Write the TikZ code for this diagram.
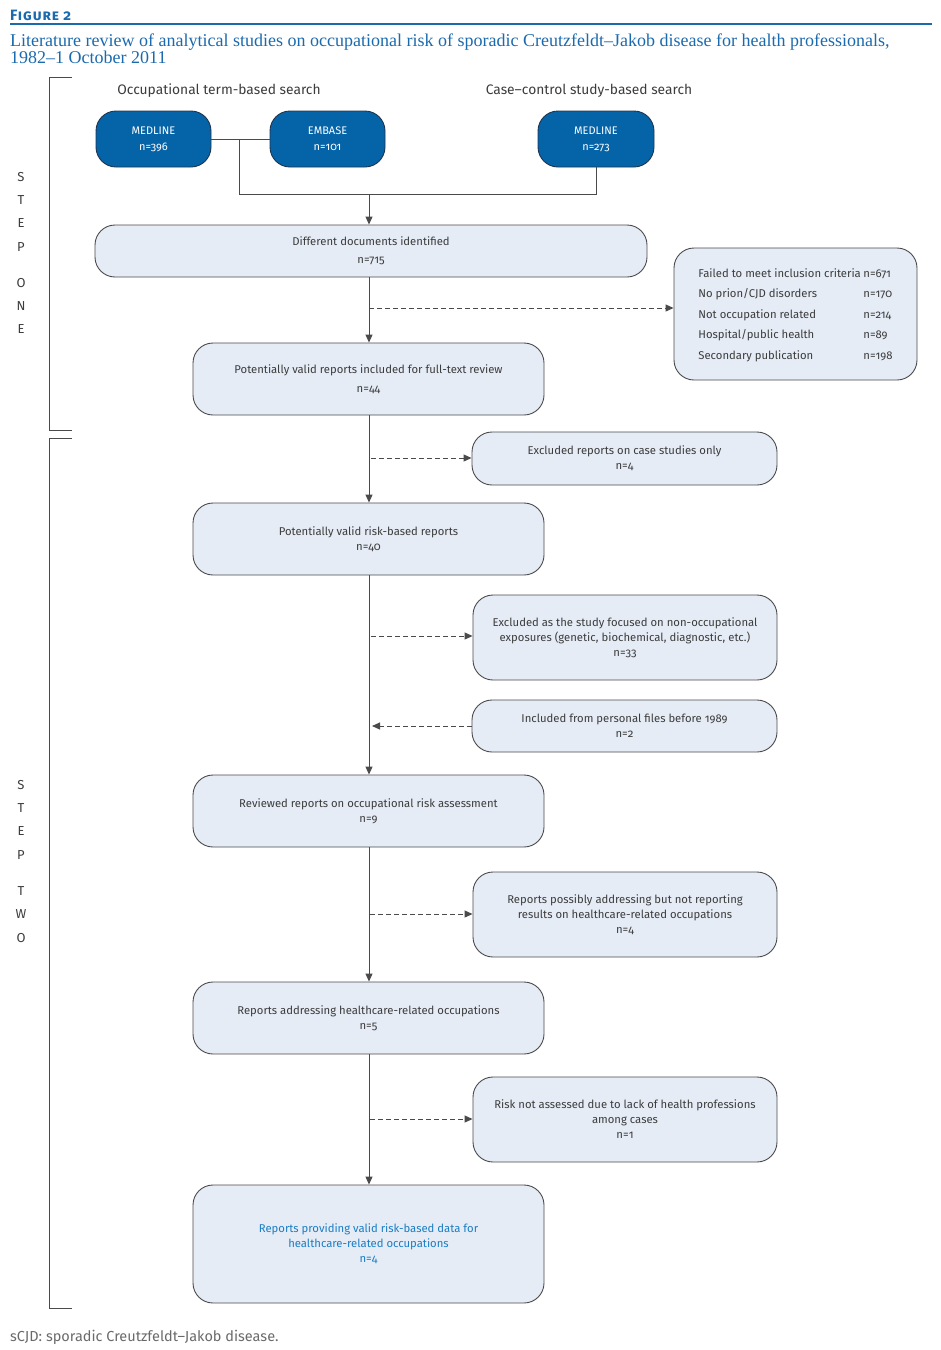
\documentclass[tikz,border=0pt]{standalone}
\usepackage{fontspec}
\setmainfont{Fira Sans}[Numbers=OldStyle]
\newfontfamily\titlefont{Liberation Serif}
\usetikzlibrary{arrows.meta}
\definecolor{figblue}{HTML}{1B6AAE}
\definecolor{dblue}{HTML}{0563A8}
\definecolor{dline}{HTML}{1E3550}
\definecolor{boxfill}{HTML}{E5ECF6}
\definecolor{boxline}{HTML}{4A4A4A}
\definecolor{txtgray}{HTML}{3C3C3C}
\definecolor{lgray}{HTML}{4A4A4A}
\definecolor{finblue}{HTML}{1A7DC4}
\definecolor{footgray}{HTML}{6A6A6A}
\begin{document}
\begin{tikzpicture}[x=1pt,y=-1pt,
  lbox/.style={draw=boxline, fill=boxfill, rounded corners=20pt, line width=0.9pt,
    align=center, font=\fontsize{11.3}{15}\selectfont, text=txtgray, inner sep=0pt},
  dbox/.style={draw=dline, fill=dblue, rounded corners=20pt, line width=0.9pt,
    align=center, font=\fontsize{11}{16}\selectfont, text=white, inner sep=0pt,
    minimum height=56pt},
  arr/.style={-{Triangle[length=8pt,width=7pt]}, line width=1pt, draw=lgray},
  darr/.style={arr, dash pattern=on 5pt off 3pt},
  bline/.style={line width=1pt, draw=lgray},
  stepl/.style={font=\fontsize{13}{13}\selectfont, text=txtgray, anchor=center},
  head/.style={font=\fontsize{13.8}{14}\selectfont, text=txtgray, anchor=base}
]
\useasboundingbox (0,0) rectangle (941,1350);

% header
\node[anchor=base west, inner sep=0pt, text=figblue, font=\fontsize{15}{15}\selectfont\bfseries\addfontfeature{LetterSpace=6}] (fig) at (10,20) {\textsc{Figure 2}};
\draw[figblue, line width=1.5pt] (10,24) -- (932,24);
\node[anchor=base west, inner sep=0pt, text=figblue, font=\titlefont\fontsize{18}{18}\selectfont] (title1) at (10,46)
  {Literature review of analytical studies on occupational risk of sporadic Creutzfeldt–Jakob disease for health professionals,};
\node[anchor=base west, inner sep=0pt, text=figblue, font=\titlefont\fontsize{18}{18}\selectfont] (title2) at (10,63)
  {1982–1 October 2011};

% brackets
\draw[bline] (72,77) -- (49,77) -- (49,430) -- (72,430);
\draw[bline] (72,438) -- (49,438) -- (49,1308) -- (72,1308);
\foreach \l/\y in {S/177,T/200,E/223,P/247,O/283,N/306,E/329,S/785,T/808,E/831,P/855,T/891,W/914,O/938}
  \node[stepl] at (21,\y) {\l};

\node[head] (h1) at (219,94) {Occupational term-based search};
\node[head] (h2) at (589,94) {Case–control study-based search};

% top boxes
\node[dbox, minimum width=115pt] (m1) at (153.5,139) {MEDLINE\\n=396};
\node[dbox, minimum width=115pt] (em) at (327.5,139) {EMBASE\\n=101};
\node[dbox, minimum width=116pt] (m2) at (596,139) {MEDLINE\\n=273};

\node[lbox, minimum width=552pt, minimum height=52pt, font=\fontsize{11.3}{18}\selectfont] (docs) at (371,251) {Different documents identified\\n=715};

\node[lbox, minimum width=243pt, minimum height=132pt, font=\fontsize{11.3}{20.5}\selectfont] (fail) at (795.5,314)
  {\begin{tabular}{@{}p{165pt}@{}l@{}}
   Failed to meet inclusion criteria & n=671\\
   No prion/CJD disorders & n=170\\
   Not occupation related & n=214\\
   Hospital/public health & n=89\\
   Secondary publication & n=198
   \end{tabular}};

\node[lbox, minimum width=351pt, minimum height=72pt, font=\fontsize{11.3}{18.5}\selectfont] (pv) at (368.5,379) {Potentially valid reports included for full-text review\\n=44};
\node[lbox, minimum width=305pt, minimum height=53pt] (exc1) at (624.5,458.5) {Excluded reports on case studies only\\n=4};
\node[lbox, minimum width=351pt, minimum height=72pt] (pr) at (368.5,539) {Potentially valid risk-based reports\\n=40};
\node[lbox, minimum width=304pt, minimum height=85pt] (exc2) at (625,637.5) {Excluded as the study focused on non-occupational\\exposures (genetic, biochemical, diagnostic, etc.)\\n=33};
\node[lbox, minimum width=305pt, minimum height=52pt] (inc) at (624.5,726) {Included from personal files before 1989\\n=2};
\node[lbox, minimum width=351pt, minimum height=72pt] (rev) at (368.5,811) {Reviewed reports on occupational risk assessment\\n=9};
\node[lbox, minimum width=304pt, minimum height=85pt] (poss) at (625,914.5) {Reports possibly addressing but not reporting\\results on healthcare-related occupations\\n=4};
\node[lbox, minimum width=351pt, minimum height=72pt] (hc) at (368.5,1018) {Reports addressing healthcare-related occupations\\n=5};
\node[lbox, minimum width=304pt, minimum height=85pt] (risk) at (625,1119.5) {Risk not assessed due to lack of health professions\\among cases\\n=1};
\node[lbox, minimum width=351pt, minimum height=118pt, text=finblue] (fin) at (368.5,1244) {Reports providing valid risk-based data for\\healthcare-related occupations\\n=4};

% connectors top
\coordinate (jl) at (239,139);
\coordinate (jb) at (239,194);
\coordinate (jc) at (369,194);
\draw[bline] (m1.east) -- (em.west);
\draw[bline] (jl) -- (jb) -| (m2.south);
\draw[arr] (jc) -- (jc |- docs.north);

% main vertical arrows
\coordinate (x0) at (369,0);
\draw[arr] (x0 |- docs.south) -- (x0 |- pv.north);
\draw[arr] (x0 |- pv.south) -- (x0 |- pr.north);
\draw[arr] (x0 |- pr.south) -- (x0 |- rev.north);
\draw[arr] (x0 |- rev.south) -- (x0 |- hc.north);
\draw[arr] (x0 |- hc.south) -- (x0 |- fin.north);

% dashed side arrows
\coordinate (b1) at (369,308);
\coordinate (b2) at (371,458);
\coordinate (b3) at (371,636);
\coordinate (b4) at (372,726);
\coordinate (b5) at (370,914);
\coordinate (b6) at (370,1119);
\draw[darr] (b1) -- (b1 -| fail.west);
\draw[darr] (b2) -- (b2 -| exc1.west);
\draw[darr] (b3) -- (b3 -| exc2.west);
\draw[darr] (inc.west) -- (b4);
\draw[darr] (b5) -- (b5 -| poss.west);
\draw[darr] (b6) -- (b6 -| risk.west);

% footnote
\node[anchor=base west, inner sep=0pt, text=footgray, font=\fontsize{14.5}{14.5}\selectfont] (foot) at (10,1341) {sCJD: sporadic Creutzfeldt–Jakob disease.};
\end{tikzpicture}
\end{document}
